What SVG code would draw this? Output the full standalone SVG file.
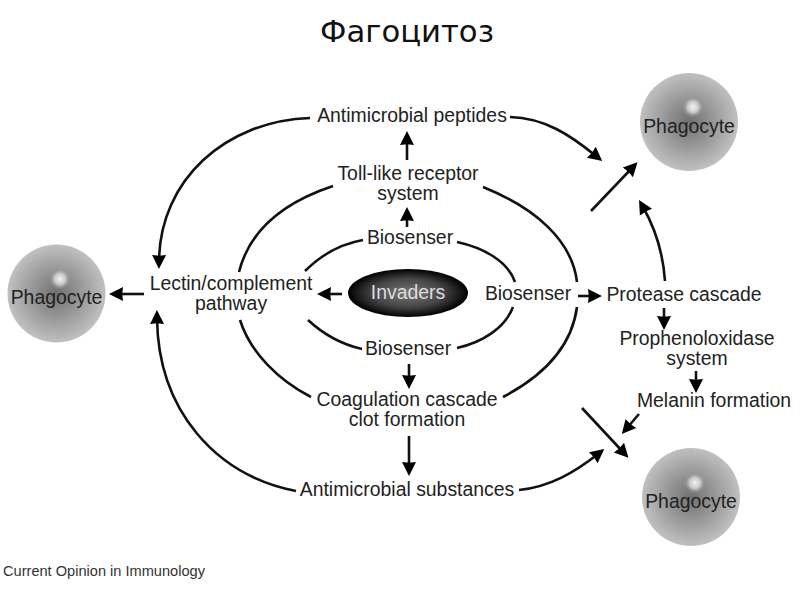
<svg xmlns="http://www.w3.org/2000/svg" width="800" height="600" viewBox="0 0 800 600">
<style>
text{font-family:"Liberation Sans",Arial,sans-serif;font-size:19.400px;fill:#222;text-anchor:middle}
.title{font-family:"DejaVu Sans",Verdana,sans-serif;font-size:30.700px;fill:#111}
.small{font-size:14.600px;text-anchor:start;fill:#333}
.inv{fill:#ddd}
.c{fill:none;stroke:#111;stroke-width:2.600;stroke-linecap:butt}
.a{marker-end:url(#arrow)}
.ball{fill:url(#ballGrad)}
.spot{fill:url(#spotGrad)}
</style>
<defs>
<marker id="arrow" markerUnits="userSpaceOnUse" markerWidth="18" markerHeight="18" refX="6" refY="9" orient="auto" viewBox="0 0 18 18">
<path d="M0 2 L14 9 L0 16 L0.800 9 Z" fill="#000"/>
</marker>
<radialGradient id="ballGrad" cx="0.5" cy="0.5" r="0.5">
<stop offset="0" stop-color="#707070"/>
<stop offset="0.55" stop-color="#9c9c9c"/>
<stop offset="1" stop-color="#c0c0c0"/>
</radialGradient>
<radialGradient id="spotGrad" cx="0.5" cy="0.5" r="0.5">
<stop offset="0" stop-color="#f4f4f4"/>
<stop offset="0.5" stop-color="#d0d0d0" stop-opacity="0.9"/>
<stop offset="1" stop-color="#888" stop-opacity="0"/>
</radialGradient>
<radialGradient id="invGrad" cx="0.5" cy="0.5" r="0.5">
<stop offset="0" stop-color="#777"/>
<stop offset="0.6" stop-color="#444"/>
<stop offset="1" stop-color="#000"/>
</radialGradient>
</defs>
<rect width="800" height="600" fill="#fff"/>
<text class="title" x="407" y="42">Фагоцитоз</text>
<g id="connectors">
<path class="c a" d="M310 118 C225 121 160 180 159 261"/>
<path class="c a" d="M510 117 C545 118 570 135 596 156"/>
<path class="c" d="M333 186 C285 202 250 228 239 272"/>
<path class="c" d="M483 187 C535 208 572 240 577 282"/>
<path class="c" d="M363 240 C340 244 320 256 305 271"/>
<path class="c" d="M457 242 C485 248 508 262 515 282"/>
<path class="c" d="M308 320 C322 333 340 344 362 349"/>
<path class="c" d="M513 307 C505 328 483 342 457 348"/>
<path class="c" d="M240 320 C250 352 278 380 311 397"/>
<path class="c" d="M577 307 C572 345 545 375 503 397"/>
<path class="c a" d="M296 491 C215 475 158 410 157 318"/>
<path class="c a" d="M519 490 C550 487 575 472 598 454"/>
<path class="c a" d="M144 294 L117 294"/>
<path class="c a" d="M342 294 L325 294"/>
<path class="c a" d="M407 160 L407 139"/>
<path class="c a" d="M407 227 L407 215"/>
<path class="c a" d="M578 296 L594 296"/>
<path class="c a" d="M664 308 L664 322"/>
<path class="c a" d="M696 371 L696 385"/>
<path class="c a" d="M639 414 L627 428"/>
<path class="c a" d="M582 408 L623 452"/>
<path class="c a" d="M409 364 L409 381"/>
<path class="c a" d="M409 436 L409 468"/>
<path class="c a" d="M591 211 L632 168"/>
<path class="c a" d="M665 281 C663 252 655 228 643 207"/>
</g>
<g id="phagocyte-left"><circle class="ball" cx="56.500" cy="293.500" r="49"/><circle class="spot" cx="60" cy="279" r="11"/><text x="56.500" y="304">Phagocyte</text></g>
<g id="phagocyte-top"><circle class="ball" cx="689" cy="122" r="49"/><circle class="spot" cx="693" cy="107" r="11"/><text x="689" y="133">Phagocyte</text></g>
<g id="phagocyte-bottom"><circle class="ball" cx="691" cy="497" r="49"/><circle class="spot" cx="695" cy="483" r="11"/><text x="691" y="508">Phagocyte</text></g>
<g id="invaders"><ellipse cx="408" cy="293" rx="60" ry="24" fill="url(#invGrad)"/><text class="inv" x="408" y="299">Invaders</text></g>
<g id="peptides"><text x="412" y="122">Antimicrobial peptides</text></g>
<g id="toll"><text x="408" y="180">Toll-like receptor</text><text x="408" y="200">system</text></g>
<g id="biosenser-top"><text x="410" y="244">Biosenser</text></g>
<g id="biosenser-right"><text x="528" y="300">Biosenser</text></g>
<g id="biosenser-bottom"><text x="408" y="355">Biosenser</text></g>
<g id="lectin"><text x="231" y="290">Lectin/complement</text><text x="231" y="310">pathway</text></g>
<g id="coagulation"><text x="407" y="406">Coagulation cascade</text><text x="407" y="426">clot formation</text></g>
<g id="substances"><text x="407" y="496">Antimicrobial substances</text></g>
<g id="protease"><text x="684" y="301">Protease cascade</text></g>
<g id="prophenoloxidase"><text x="697" y="345">Prophenoloxidase</text><text x="697" y="365">system</text></g>
<g id="melanin"><text x="714" y="407">Melanin formation</text></g>
<text class="small" x="3" y="576">Current Opinion in Immunology</text>
</svg>
